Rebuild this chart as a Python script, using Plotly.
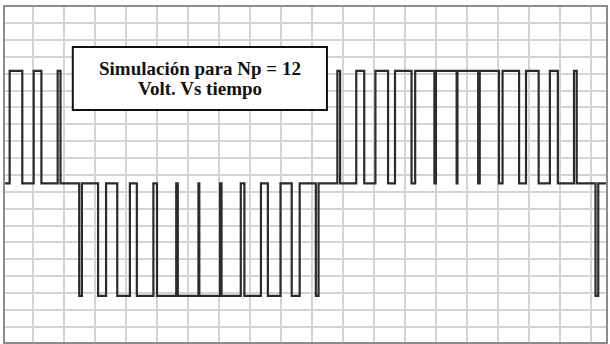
import plotly.graph_objects as go

# ---- data (time in ms, voltage normalised to +/-1) ----
# pulse edges [start, end] of positive pulses
pos_start = [-2.33, -1.40, -0.47,
             10.364, 11.096, 11.838, 12.597, 13.378, 14.183, 15.017, 15.878, 16.763, 17.672, 18.596, 19.530]
pos_end   = [-1.84, -1.10, -0.36,
             10.470, 11.405, 12.328, 13.238, 14.123, 14.984, 15.818, 16.623, 17.404, 18.162, 18.905, 19.636]
# pulse edges of negative pulses
neg_start = [0.364, 1.096, 1.838, 2.597, 3.378, 4.183, 5.017, 5.878, 6.763, 7.672, 8.596, 9.530,
             20.364]
neg_end   = [0.470, 1.405, 2.328, 3.238, 4.123, 4.984, 5.818, 6.623, 7.404, 8.162, 8.905, 9.636,
             20.470]
level_pos = 1.0
level_neg = -1.0
t_first = -2.51
t_last = 20.77

title_lines = ["Simulación para Np = 12", "Volt. Vs tiempo"]

# ---- build step waveform from pulse lists ----
events = []
for s, e in zip(pos_start, pos_end):
    events.append((s, level_pos))
    events.append((e, 0.0))
for s, e in zip(neg_start, neg_end):
    events.append((s, level_neg))
    events.append((e, 0.0))
events.sort()
xs = [t_first]
ys = [0.0]
for t, v in events:
    xs.append(t)
    ys.append(v)
xs.append(t_last)
ys.append(0.0)

fig = go.Figure()
fig.add_trace(go.Scatter(x=xs, y=ys, mode="lines", line_shape="hv",
                         line=dict(color="#2b2b2b", width=2.2),
                         hoverinfo="skip", showlegend=False))

line_y = [0.8167, 0.7570]  # paper positions of the two text lines
annotations = [dict(xref="paper", yref="paper", x=0.3242, y=yy,
                    xanchor="center", yanchor="middle",
                    text="<b>%s</b>" % s, showarrow=False,
                    font=dict(family="Liberation Serif", size=19, color="#111111"))
               for s, yy in zip(title_lines, line_y)]

fig.update_layout(
    width=610, height=344,
    margin=dict(l=5, r=2, t=7, b=2),
    paper_bgcolor="white", plot_bgcolor="white",
    xaxis=dict(range=[t_first, t_last], showgrid=True, gridcolor="#d4d4d4", gridwidth=2,
               tick0=-1.43, dtick=1.2, showticklabels=False, ticks="", zeroline=False,
               showline=True, mirror=True, linecolor="#8c8c8c", linewidth=1.5),
    yaxis=dict(range=[-1.41, 1.567], showgrid=True, gridcolor="#d4d4d4", gridwidth=2,
               tick0=0.075, dtick=0.15, showticklabels=False, ticks="", zeroline=False,
               showline=True, mirror=True, linecolor="#8c8c8c", linewidth=1.5),
    shapes=[dict(type="rect", xref="paper", yref="paper",
                 x0=0.1128, x1=0.5357, y0=0.6925, y1=0.8806,
                 line=dict(color="#111111", width=2), fillcolor="white", layer="above")],
    annotations=annotations,
)

fig.write_html("out.html", config={"displayModeBar": False},
               post_script="document.body.style.margin='0';")
